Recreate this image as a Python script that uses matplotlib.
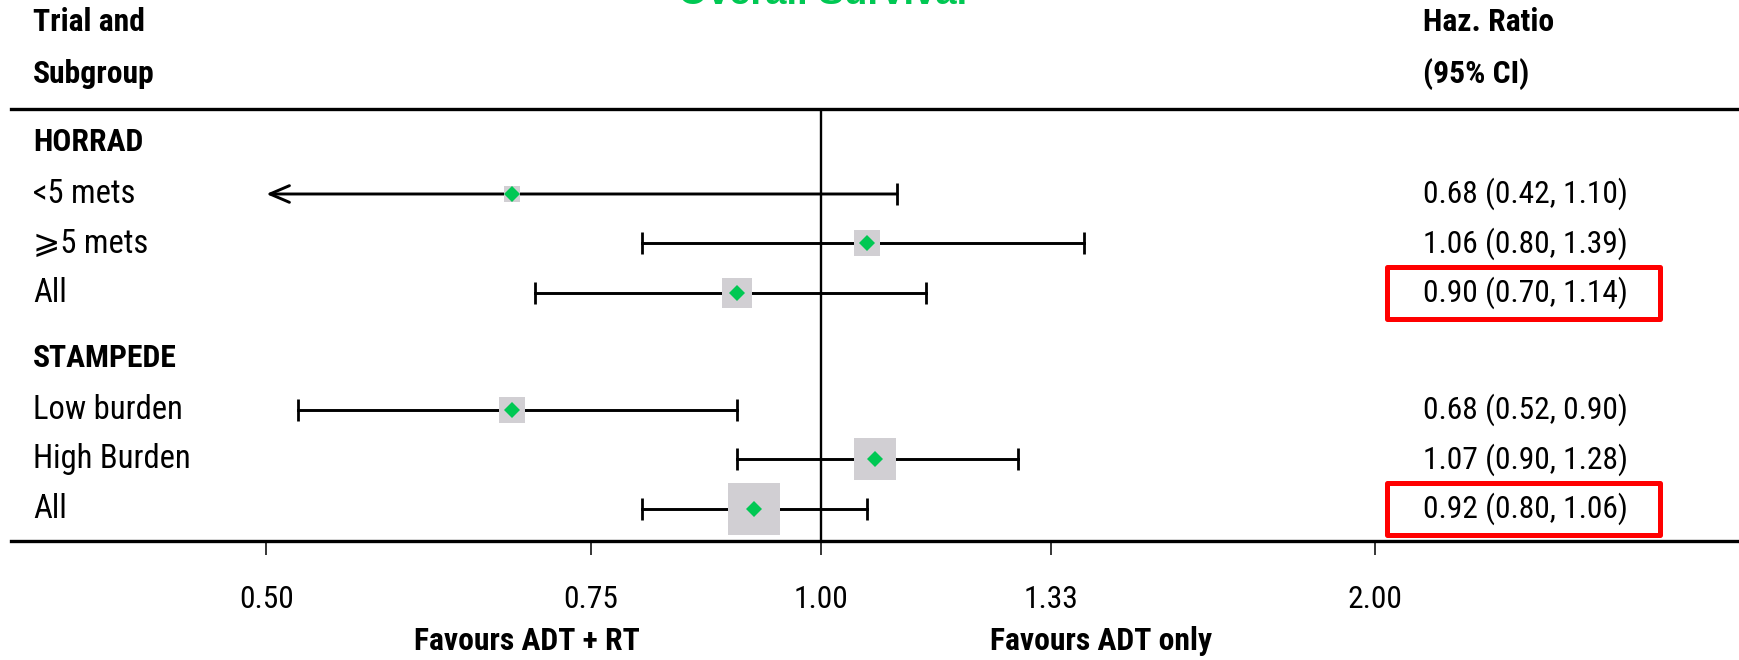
import numpy as np
import matplotlib
matplotlib.use("Agg")
import matplotlib.pyplot as plt
from matplotlib import font_manager
from matplotlib.patches import Rectangle

# forest plot data
trials = ["HORRAD", "STAMPEDE"]
subgroups = [["<5 mets", "\u2a7e5 mets", "All"],
             ["Low burden", "High Burden", "All"]]
hr = [[0.68, 1.06, 0.90], [0.68, 1.07, 0.92]]
lo = [[0.42, 0.80, 0.70], [0.52, 0.90, 0.80]]
hi = [[1.10, 1.39, 1.14], [0.90, 1.28, 1.06]]
boxed = [[False, False, True], [False, False, True]]

tick_vals = [0.5, 0.75, 1.0, 1.333, 2.0]
tick_labels = ["0.50", "0.75", "1.00", "1.33", "2.00"]

GREEN = "#00c853"
GREY = "#d1cfd3"

# pick a narrow font if there is one
names = {f.name for f in font_manager.fontManager.ttflist}
narrow = None
for cand in ["Liberation Sans Narrow", "Roboto Condensed", "PT Sans Narrow",
             "Open Sans Condensed", "Noto Sans Condensed", "Arial Narrow",
             "Nimbus Sans Narrow"]:
  if cand in names:
    narrow = dict(family=[cand, "DejaVu Sans"])
    break
if narrow is None:
  narrow = dict(family=["DejaVu Sans"], stretch="condensed")

fig = plt.figure(figsize=(17.39, 6.6), dpi=100)
renderer = fig.canvas.get_renderer()

def fit_size(s, target_px, weight="normal", base=23.5):
  # shrink the font until the string is as wide as in the reference
  t = fig.text(0, 0, s, fontsize=base, fontweight=weight, **narrow)
  w = t.get_window_extent(renderer=renderer).width
  t.remove()
  return min(base, base * target_px / w)

FS = fit_size("High Burden", 160)
FS_NUM = fit_size("0.90 (0.70, 1.14)", 205)
FS_B = fit_size("STAMPEDE", 144, "bold")

ax = fig.add_axes([11/1739, 1 - 541/660, 1728/1739, (541 - 109)/660])
ax.set_xscale("log")
ax.set_xlim(0.3634, 3.151)
ax.set_ylim(8.06, -0.667)

ytr = ax.get_yaxis_transform()
x_lab = 0.0127
x_hr = 0.8171

y = 0.0
for g, name in enumerate(trials):
  ax.text(x_lab, y, name, transform=ytr, va="center", ha="left",
          fontsize=FS_B, fontweight="bold", **narrow)
  y += 1.05
  for i, sub in enumerate(subgroups[g]):
    est, l, h = hr[g][i], lo[g][i], hi[g][i]
    ax.text(x_lab, y, sub, transform=ytr, va="center", ha="left",
            fontsize=FS, **narrow)
    # CI line, arrow if it runs past the axis
    if l < tick_vals[0]:
      ax.annotate("", xy=(tick_vals[0], y), xytext=(h, y),
                  arrowprops=dict(arrowstyle="->,head_length=1.4,head_width=0.6",
                                  lw=2.1, color="black", shrinkA=0, shrinkB=0))
      ax.plot([h], [y], marker="|", ms=16, mew=2, color="black")
    else:
      ax.plot([l, h], [y, y], color="black", lw=2.1)
      ax.plot([l, h], [y, y], ls="none", marker="|", ms=16, mew=2,
              color="black")
    # box size from inverse variance weight
    se = (np.log(h) - np.log(l)) / (2 * 1.96)
    side = 2.66 * np.sqrt(1 / se**2)
    ax.plot([est], [y], marker="s", ms=side, mew=0, color=GREY, zorder=3)
    ax.plot([est], [y], marker="D", ms=min(8.6, side / 1.3), mew=0,
            color=GREEN, zorder=4)
    ax.text(x_hr, y, "%.2f (%.2f, %.2f)" % (est, l, h), transform=ytr,
            va="center", ha="left", fontsize=FS_NUM, **narrow)
    if boxed[g][i]:
      ax.add_patch(Rectangle((0.7965, y - 0.525), 0.158, 1.05,
                             transform=ytr, fill=False, ec="#ff0000",
                             lw=3.6, joinstyle="round", clip_on=False,
                             zorder=5))
    y += 1
  y += 0.31

ax.axvline(1.0, color="black", lw=1.7, zorder=2)

for s in ["left", "right"]:
  ax.spines[s].set_visible(False)
for s in ["top", "bottom"]:
  ax.spines[s].set_linewidth(2.4)
ax.set_yticks([])
ax.set_xticks(tick_vals)
ax.set_xticklabels(tick_labels, fontsize=FS_NUM, **narrow)
ax.xaxis.set_minor_locator(matplotlib.ticker.NullLocator())
ax.tick_params(axis="x", length=10, width=1.1, pad=22)

# headers
fig.text(33/1739, 1 - 22/660, "Trial and", ha="left", va="center",
         fontsize=FS_B, fontweight="bold", **narrow)
fig.text(33/1739, 1 - 74/660, "Subgroup", ha="left", va="center",
         fontsize=FS_B, fontweight="bold", **narrow)
fig.text(1423/1739, 1 - 22/660, "Haz. Ratio", ha="left", va="center",
         fontsize=FS_B, fontweight="bold", **narrow)
fig.text(1423/1739, 1 - 74/660, "(95% CI)", ha="left", va="center",
         fontsize=FS_B, fontweight="bold", **narrow)
fig.text(823/1739, 1 - 4/660, "Overall Survival", ha="center",
         va="baseline", fontsize=27.5, fontweight="bold", color=GREEN,
         family="Liberation Sans")

fig.text(527/1739, 1 - 641/660, "Favours ADT + RT", ha="center",
         va="center", fontsize=FS_B, fontweight="bold", **narrow)
fig.text(1101/1739, 1 - 641/660, "Favours ADT only", ha="center",
         va="center", fontsize=FS_B, fontweight="bold", **narrow)

fig.savefig("out.png", dpi=100)
